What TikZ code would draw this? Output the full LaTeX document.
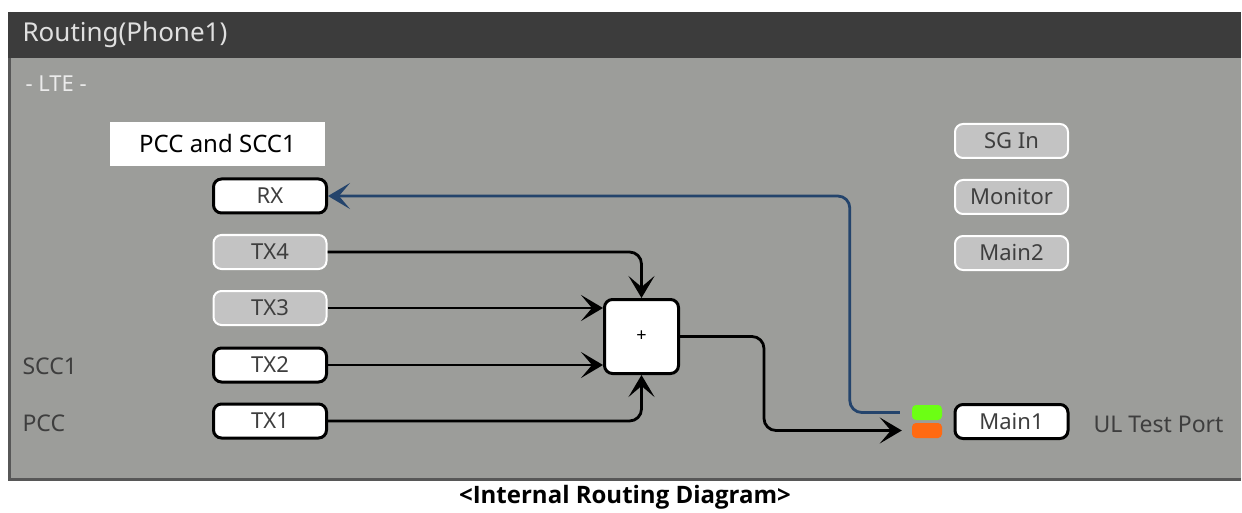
\documentclass[tikz,border=0pt]{standalone}
\usepackage{fontspec}
\setmainfont{Noto Sans}
\newfontfamily\capfont{Open Sans}
\usetikzlibrary{arrows.meta,positioning}

\definecolor{panelgray}{HTML}{9C9D9A}
\definecolor{paneledge}{HTML}{575757}
\definecolor{titlebar}{HTML}{3C3C3C}
\definecolor{portoff}{HTML}{C3C3C3}
\definecolor{porttext}{HTML}{3E3E3E}
\definecolor{rxblue}{HTML}{24446C}
\definecolor{lampgreen}{HTML}{6CFF14}
\definecolor{lamporange}{HTML}{FF6A12}

\begin{document}
\begin{tikzpicture}[x=1pt, y=-1pt,
  port/.style={draw=black, line width=3pt, fill=white, rounded corners=8pt,
               minimum width=113pt, minimum height=34pt, inner sep=0pt,
               text=porttext, font=\fontsize{22}{26}\selectfont},
  idle/.style={port, draw=white, line width=2pt, fill=portoff},
  lamp/.style={rounded corners=4pt, minimum width=30pt, minimum height=15pt, inner sep=0pt},
  lbl/.style={anchor=west, text=porttext, font=\fontsize{23}{27}\selectfont},
  sig/.style={line width=2.8pt, rounded corners=12pt,
              -{Stealth[length=22pt, width=26pt, inset=11pt]}}
]
  \useasboundingbox[fill=white] (0,0) rectangle (1242,513);

  % window frame and title bar
  \fill[panelgray] (8,12) rectangle (1241,481);
  \draw[paneledge, line width=3pt] (9.5,12) -- (9.5,479.5) -- (1241,479.5);
  \fill[titlebar] (8,12) rectangle (1241,58);
  \node[anchor=west, text=black!12, font=\fontsize{26}{30}\selectfont] (title) at (19,35) {Routing(Phone1)};
  \node[anchor=west, text=black!8, font=\fontsize{22}{26}\selectfont] (mode) at (22,84) {- LTE -};

  % carrier note
  \node[fill=white, minimum width=215pt, minimum height=44pt, inner sep=0pt,
        font=\fontsize{24}{28}\selectfont] (note) at (217.5,144) {PCC and SCC1};

  % phone side ports
  \node[port] (rx)  at (270,196) {RX};
  \node[idle] (tx4) at (270,252) {TX4};
  \node[idle] (tx3) at (270,308) {TX3};
  \node[port] (tx2) at (270,365) {TX2};
  \node[port] (tx1) at (270,421) {TX1};
  \node[lbl] (scc) at (19,366) {SCC1};
  \node[lbl] (pcc) at (19,423) {PCC};

  % combiner
  \node[draw=black, line width=3pt, fill=white, rounded corners=8pt,
        minimum width=74pt, minimum height=74pt, inner sep=0pt,
        font=\fontsize{18}{20}\selectfont] (sum) at (641.5,336.5) {+};

  % front panel ports
  \node[idle] (sgin) at (1011.5,141) {SG In};
  \node[idle] (mon)  at (1011.5,197) {Monitor};
  \node[idle] (main2) at (1011.5,253) {Main2};
  \node[port] (main1) at (1011.5,421.5) {Main1};
  \node[lbl] (ulport) at (1090,424) {UL Test Port};
  \node[lamp, fill=lampgreen]  (rxlamp) at (927,412.5) {};
  \node[lamp, fill=lamporange] (txlamp) at (927,430.5) {};

  % uplink paths
  \draw[sig] (tx4.east) -| (sum.north);
  \draw[sig] (tx3.east) -- (tx3.east -| sum.west);
  \draw[sig] (tx2.east) -- (tx2.east -| sum.west);
  \draw[sig] (tx1.east) -| (sum.south);
  \draw[sig, shorten >=10pt] (sum.east) -- ++(84,0) |- (txlamp.west);

  % downlink path
  \draw[sig, rxblue, shorten <=12pt] (rxlamp.west) -- ++(-62,0) |- (rx.east);

  \node[font=\capfont\bfseries\fontsize{24}{28}\selectfont] (caption) at (625,497) {<Internal Routing Diagram>};
\end{tikzpicture}
\end{document}
